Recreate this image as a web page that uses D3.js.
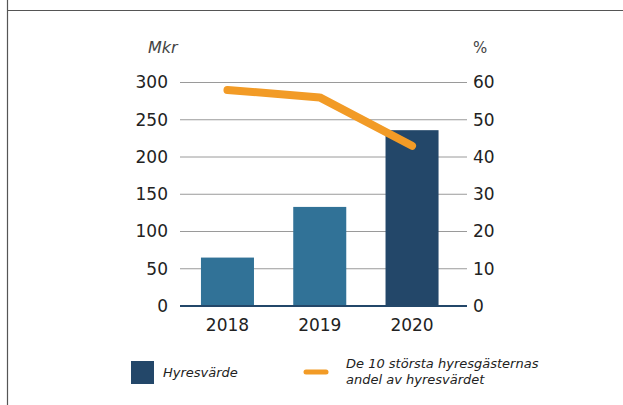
<!DOCTYPE html>
<html>
<head>
<meta charset="utf-8">
<script src="https://cdn.jsdelivr.net/npm/d3@7"></script>
<style>
  body { margin: 0; background: #fff; }
  text { font-family: "DejaVu Sans", sans-serif; fill: #222; }
</style>
</head>
<body>
<div id="chart"></div>
<script>
var years = ["2018", "2019", "2020"];
var hyresvarde = [65, 133, 236];
var andel = [58, 56, 43];
var leftTicks = [0, 50, 100, 150, 200, 250, 300];
var rightTicks = [0, 10, 20, 30, 40, 50, 60];
var barColors = ["#317297", "#317297", "#234769"];

var width = 623, height = 405;

var svg = d3.select("#chart")
    .append("svg")
    .attr("width", width)
    .attr("height", height);

// frame lines
svg.append("line")
    .attr("x1", 8).attr("x2", width)
    .attr("y1", 10.5).attr("y2", 10.5)
    .attr("stroke", "#555").attr("stroke-width", 1.2);
svg.append("line")
    .attr("x1", 7.5).attr("x2", 7.5)
    .attr("y1", 0).attr("y2", height)
    .attr("stroke", "#555").attr("stroke-width", 1.2);

var x = d3.scaleBand()
    .domain(years)
    .range([182.5, 457])
    .paddingInner(0.4255)
    .paddingOuter(0.2);

var y = d3.scaleLinear().domain([0, 300]).range([306, 82.5]);
var y2 = d3.scaleLinear().domain([0, 60]).range([306, 82.5]);

// gridlines
svg.selectAll(".grid")
    .data(leftTicks.filter(function (d) { return d > 0; }))
    .enter().append("line")
    .attr("x1", 180).attr("x2", 467)
    .attr("y1", function (d) { return y(d); })
    .attr("y2", function (d) { return y(d); })
    .attr("stroke", "#9a9a9a")
    .attr("stroke-width", 1);

// bars
svg.selectAll(".bar")
    .data(hyresvarde)
    .enter().append("rect")
    .attr("x", function (d, i) { return x(years[i]); })
    .attr("y", function (d) { return y(d); })
    .attr("width", x.bandwidth())
    .attr("height", function (d) { return y(0) - y(d); })
    .attr("fill", function (d, i) { return barColors[i]; });

// baseline
svg.append("line")
    .attr("x1", 180).attr("x2", 467)
    .attr("y1", y(0)).attr("y2", y(0))
    .attr("stroke", "#234769")
    .attr("stroke-width", 2.2);

// left axis
var leftAxis = svg.append("g")
    .attr("transform", "translate(168,0)")
    .call(d3.axisLeft(y).tickValues(leftTicks).tickSize(0).tickPadding(0));
leftAxis.select(".domain").remove();
leftAxis.selectAll("text")
    .style("font-family", "DejaVu Sans")
    .style("font-size", "17px")
    .style("fill", "#222");

// right axis
var rightAxis = svg.append("g")
    .attr("transform", "translate(473,0)")
    .call(d3.axisRight(y2).tickValues(rightTicks).tickSize(0).tickPadding(0));
rightAxis.select(".domain").remove();
rightAxis.selectAll("text")
    .style("font-family", "DejaVu Sans")
    .style("font-size", "17px")
    .style("fill", "#222");

// x axis labels
var xAxis = svg.append("g")
    .attr("transform", "translate(0,319)")
    .call(d3.axisBottom(x).tickSize(0).tickPadding(0));
xAxis.select(".domain").remove();
xAxis.selectAll("text")
    .style("font-family", "DejaVu Sans")
    .style("font-size", "17px")
    .style("fill", "#222");

// line
var line = d3.line()
    .x(function (d, i) { return x(years[i]) + x.bandwidth() / 2; })
    .y(function (d) { return y2(d); });

svg.append("path")
    .datum(andel)
    .attr("d", line)
    .attr("fill", "none")
    .attr("stroke", "#f29b26")
    .attr("stroke-width", 8)
    .attr("stroke-linecap", "round")
    .attr("stroke-linejoin", "round");

// unit labels
svg.append("text")
    .text("Mkr")
    .attr("x", 148).attr("y", 53)
    .style("font-style", "italic")
    .style("font-size", "16px")
    .style("fill", "#444");

svg.append("text")
    .text("%")
    .attr("x", 473).attr("y", 53)
    .style("font-size", "15px")
    .style("fill", "#444");

// legend
svg.append("rect")
    .attr("x", 131).attr("y", 361)
    .attr("width", 23).attr("height", 23)
    .attr("fill", "#234769");

svg.append("text")
    .text("Hyresvärde")
    .attr("x", 163).attr("y", 377)
    .style("font-style", "italic")
    .style("font-size", "13px");

svg.append("line")
    .attr("x1", 306).attr("x2", 326)
    .attr("y1", 372).attr("y2", 372)
    .attr("stroke", "#f29b26")
    .attr("stroke-width", 5)
    .attr("stroke-linecap", "round");

svg.append("text")
    .text("De 10 största hyresgästernas")
    .attr("x", 346).attr("y", 368)
    .style("font-style", "italic")
    .style("font-size", "13px");

svg.append("text")
    .text("andel av hyresvärdet")
    .attr("x", 346).attr("y", 384)
    .style("font-style", "italic")
    .style("font-size", "13px");
</script>
</body>
</html>
